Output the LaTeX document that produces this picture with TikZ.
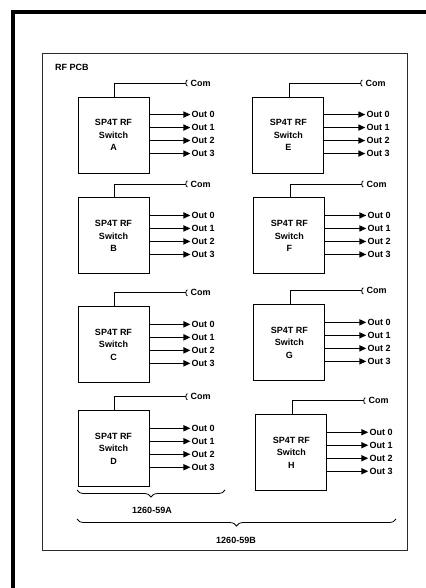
\documentclass[tikz,border=0pt]{standalone}
\usepackage{fontspec}
\setmainfont{Liberation Sans}
\usetikzlibrary{arrows.meta,positioning,decorations.pathreplacing}
\definecolor{pcbgrey}{HTML}{2B2B2B}

\begin{document}
\begin{tikzpicture}[x=1pt,y=-1pt,
  swbox/.style={draw,line width=0.9pt,minimum width=71pt,minimum height=76pt,align=center,inner sep=0pt,font=\bfseries\fontsize{9}{12.5}\selectfont},
  outarr/.style={-{Triangle[length=7pt,width=6pt]},line width=1.5pt},
  comln/.style={-{Arc Barb[reversed,length=2pt,width=7pt]},line width=0.8pt},
  lbl/.style={font=\bfseries\fontsize{9}{10}\selectfont,inner sep=1pt},
  brc/.style={decorate,decoration={brace,mirror,amplitude=7pt},line width=0.8pt},
  node distance=26pt and 103pt
]
\useasboundingbox (0,0) rectangle (425,588);
\draw[line width=3.5pt] (13,590) -- (13,12) -- (428,12);
\node[draw=pcbgrey,line width=1pt,minimum width=365pt,minimum height=496pt,inner sep=0pt] (pcb) at (224.5,302) {};
\node[lbl,anchor=west] (pcbname) at (54,67) {RF PCB};
% switches, left column
\node[swbox] (swA) at (113.5,135) {SP4T RF\\Switch\\A};
\node[swbox,below=24pt of swA] (swB) {SP4T RF\\Switch\\B};
\node[swbox,below=32pt of swB] (swC) {SP4T RF\\Switch\\C};
\node[swbox,below=27pt of swC] (swD) {SP4T RF\\Switch\\D};
% switches, right column
\node[swbox,right=103pt of swA] (swE) {SP4T RF\\Switch\\E};
\node[swbox,right=104pt of swB] (swF) {SP4T RF\\Switch\\F};
\node[swbox,right=104pt of swC,yshift=2pt] (swG) {SP4T RF\\Switch\\G};
\node[swbox,right=106pt of swD,yshift=-4pt] (swH) {SP4T RF\\Switch\\H};
% common inputs and outputs
\foreach \s in {A,B,C,D,E,F,G,H} {
  \coordinate (com\s) at ([xshift=38pt,yshift=13.5pt]sw\s.north east);
  \draw[comln] ([xshift=37pt]sw\s.north west) |- (com\s);
  \node[lbl,anchor=west] at ([xshift=2pt]com\s) {Com};
  \foreach \o/\dy in {0/18,1/31,2/44,3/57} {
    \coordinate (out\s\o) at ([xshift=41pt,yshift=-\dy pt]sw\s.north east);
    \draw[outarr] (sw\s.north east |- out\s\o) -- (out\s\o);
    \node[lbl,anchor=west] at (out\s\o) {Out \o};
  }
}
% model braces
\coordinate (brAl) at (77,490);
\coordinate (brAr) at (225,490);
\coordinate (brBl) at (77,519);
\coordinate (brBr) at (396,519);
\draw[brc] (brAl) -- (brAr);
\draw[brc] (brBl) -- (brBr);
\node[lbl] (mdlA) at (152,510) {1260-59A};
\node[lbl] (mdlB) at (236,540) {1260-59B};
\end{tikzpicture}
\end{document}
